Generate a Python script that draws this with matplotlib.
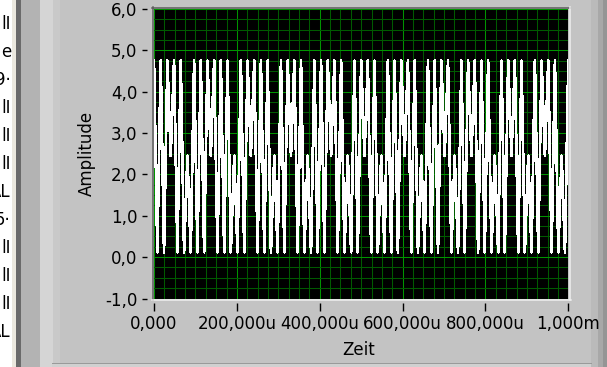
import numpy as np
import matplotlib.pyplot as plt
from matplotlib.patches import Rectangle
from matplotlib.lines import Line2D

# waveform samples, one char per sample: index into LEVELS
LEVELS = [0.12, 1.2, 2.45, 3.6, 4.75]
CODES = ("4040424040204040424040402040424040402040"
         "4240402040404240402040424040204040424040"
         "2040404240204042404040204042404020404240"
         "40204")

xticks = [0, 200e-6, 400e-6, 600e-6, 800e-6, 1e-3]
xticklabels = ["0,000", "200,000u", "400,000u", "600,000u", "800,000u", "1,000m"]
yticks = [-1, 0, 1, 2, 3, 4, 5, 6]
yticklabels = ["-1,0", "0,0", "1,0", "2,0", "3,0", "4,0", "5,0", "6,0"]
side_text = ["lI", "e", "9·", "lI", "lI", "lI", "AL", "5·", "lI", "lI", "lI", "AL"]

y = np.array([LEVELS[int(c)] for c in CODES])
t = np.linspace(0, 1e-3, len(y))

W, H = 607, 367
fig = plt.figure(figsize=(W / 100, H / 100), dpi=100)
fig.patch.set_facecolor('#c3c3c3')

def box(x0, y0, x1, y1, color):
    fig.patches.append(Rectangle((x0 / W, 1 - y1 / H), (x1 - x0) / W, (y1 - y0) / H,
                                 transform=fig.transFigure, color=color, lw=0, zorder=-2))

def hline(x0, x1, yy, color, lw=1):
    fig.lines.append(Line2D([x0 / W, x1 / W], [1 - yy / H, 1 - yy / H],
                            transform=fig.transFigure, color=color, lw=lw * 0.72, zorder=-1))

def vline(xx, y0, y1, color, lw=1):
    fig.lines.append(Line2D([xx / W, xx / W], [1 - y0 / H, 1 - y1 / H],
                            transform=fig.transFigure, color=color, lw=lw * 0.72, zorder=-1))

# panel decoration
box(0, 0, 12, H, '#ffffff')
box(12, 0, 16, H, '#ebe8de')
box(16, 0, 21, H, '#6a6a6a')
box(21, 0, 40, H, '#b3b3b3')
box(40, 0, 53, H, '#d5d5d5')
box(53, 0, 60, H, '#c9c9c9')
box(591, 0, 598, H, '#bababa')
box(598, 0, 603, H, '#a8a8a8')
box(603, 0, W, H, '#959595')
box(52, 363, 591, H, '#d0d0d0')
hline(52, 591, 363, '#9a9a9a')

for i, s in enumerate(side_text):
    fig.text(11 / W, 1 - (24 + 28 * i) / H, s, ha='right', va='center',
             fontsize=12, color='black')

ax = fig.add_axes([154 / W, 1 - 298.5 / H, 414.3 / W, 289.5 / H])
ax.set_facecolor('black')
ax.plot(t, y, color='white', lw=1.25, zorder=3, antialiased=False)

ax.set_xlim(0, 1e-3)
ax.set_ylim(-1, 6)
ax.set_xticks(xticks)
ax.set_xticklabels(xticklabels)
ax.set_yticks(yticks)
ax.set_yticklabels(yticklabels)
ax.set_xticks(np.arange(0, 1e-3 + 1e-9, 25e-6), minor=True)
ax.set_yticks(np.arange(-1, 6.01, 0.25), minor=True)
ax.grid(which='minor', color='#005a00', lw=0.75)
ax.grid(which='major', color='#009400', lw=0.75)
ax.set_axisbelow(True)
for sp in ax.spines.values():
    sp.set_visible(False)
ax.spines['left'].set_position(('outward', 5))
ax.spines['bottom'].set_position(('outward', 3.5))
ax.tick_params(which='minor', length=0)
ax.tick_params(axis='y', which='major', direction='out', length=3.6, width=1,
               pad=3.5, labelsize=12, colors='black')
ax.tick_params(axis='x', which='major', direction='out', length=5.8, width=1,
               pad=2.5, labelsize=12, colors='black')

# sunken frame around the plot
hline(152, 570, 7.5, '#5a5a5a', 1.5)
vline(152.5, 7, 300, '#5a5a5a', 1.5)
hline(152, 571, 299.8, '#f0f0f0', 1.5)
vline(570, 7, 300, '#f0f0f0', 1.5)

fig.text(87 / W, 1 - 153.5 / H, "Amplitude", rotation=90, ha='center', va='center',
         fontsize=12)
fig.text(359 / W, 1 - 350 / H, "Zeit", ha='center', va='center', fontsize=12)

fig.savefig('out.png', dpi=100, facecolor=fig.get_facecolor())
